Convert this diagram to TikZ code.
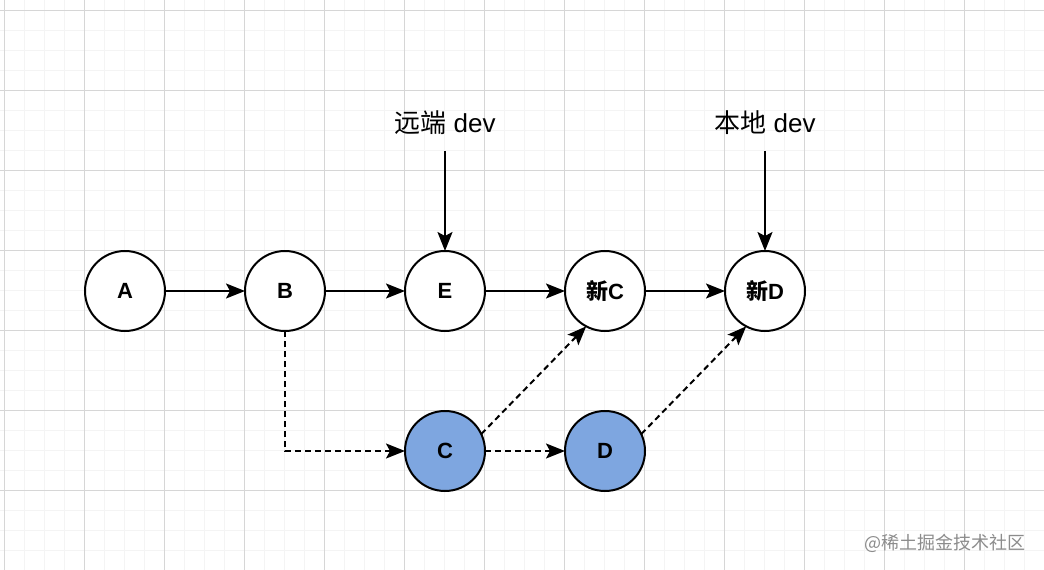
\documentclass[tikz,border=0pt]{standalone}
\usepackage{fontspec}
\setmainfont{Liberation Sans}
\newfontfamily\cjk{Noto Sans CJK SC}
\usepackage{xcolor}
\usetikzlibrary{positioning, arrows.meta}
\definecolor{commitblue}{HTML}{7EA6E0}
\definecolor{gridmajor}{HTML}{D6D6D6}
\definecolor{gridminor}{HTML}{F4F4F4}

\begin{document}
\begin{tikzpicture}[x=1pt, y=-1pt, node distance=80pt,
    commit/.style={circle, draw, line width=2pt, fill=white, minimum size=80pt, inner sep=0pt, outer sep=0pt, font=\fontsize{22}{26}\selectfont\bfseries},
    rebased/.style={commit, fill=commitblue},
    branch/.style={font=\fontsize{26}{30}\selectfont, minimum height=56pt, inner sep=0pt},
    link/.style={-{Stealth[length=19pt, width=15pt, inset=4pt]}, line width=2pt},
    copied/.style={link, dash pattern=on 6pt off 4pt}]
        \useasboundingbox (0,0) rectangle (1044,570);
        \fill[white] (0,0) rectangle (1044,570);
        % Grid paper
        \foreach \gx in {4,24,...,1044} \draw[gridminor, line width=1pt] (\gx,0) -- (\gx,570);
        \foreach \gy in {10,30,...,570} \draw[gridminor, line width=1pt] (0,\gy) -- (1044,\gy);
        \foreach \gx in {4,84,...,1044} \draw[gridmajor, line width=1pt] (\gx,0) -- (\gx,570);
        \foreach \gy in {10,90,...,570} \draw[gridmajor, line width=1pt] (0,\gy) -- (1044,\gy);
        % Commits
        \node[commit] (A) at (125,291) {A};
        \node[commit, right=of A] (B) {B};
        \node[commit, right=of B] (E) {E};
        \node[commit, right=of E] (nC) {{\cjk\bfseries 新}C};
        \node[commit, right=of nC] (nD) {{\cjk\bfseries 新}D};
        \node[rebased, below=of E] (C) {C};
        \node[rebased, right=of C] (D) {D};
        % Branch pointers
        \node[branch, above=100pt of E] (remote) {{\cjk 远端} dev};
        \node[branch, above=100pt of nD] (local) {{\cjk 本地} dev};
        \draw[link] (remote) -- (E);
        \draw[link] (local) -- (nD);
        % History
        \draw[link] (A) -- (B);
        \draw[link] (B) -- (E);
        \draw[link] (E) -- (nC);
        \draw[link] (nC) -- (nD);
        % Replayed commits
        \draw[copied] (B) |- (C);
        \draw[copied] (C) -- (D);
        \draw[copied] (C.25) -- (nC.242);
        \draw[copied] (D.25) -- (nD.242);
        \node[font=\fontsize{18}{20}\selectfont\cjk, text=black!45] (mark) at (945,543) {@稀土掘金技术社区};
    \end{tikzpicture}
\end{document}
